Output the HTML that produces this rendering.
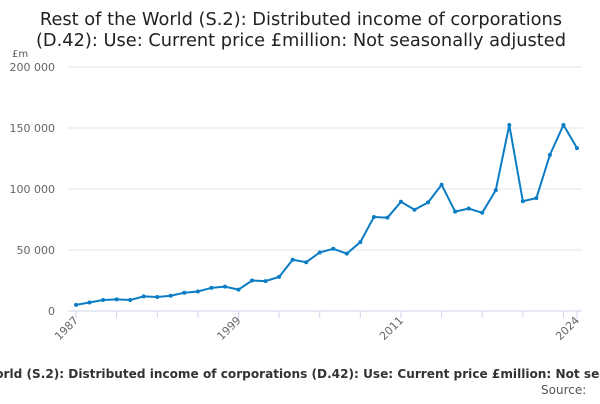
<!DOCTYPE html>
<html><head><meta charset="utf-8"><style>
body{margin:0;background:#fff;width:600px;height:400px;overflow:hidden;font-family:"DejaVu Sans","Liberation Sans",sans-serif}
</style></head><body>
<svg width="600" height="400" font-family="DejaVu Sans, Liberation Sans, sans-serif">
<text x="301" y="25" text-anchor="middle" font-size="17.8" fill="#222">Rest of the World (S.2): Distributed income of corporations</text>
<text x="301" y="46" text-anchor="middle" font-size="17.8" fill="#222">(D.42): Use: Current price £million: Not seasonally adjusted</text>
<text x="12" y="57" font-size="10" fill="#555">£m</text>
<g id="grid"></g><g id="xaxis"></g><g id="series"></g>
<text x="-97" y="378" font-size="12.1" font-weight="bold" fill="#333">Rest of the World (S.2): Distributed income of corporations (D.42): Use: Current price £million: Not seasonally adjusted</text>
<text x="541" y="394" font-size="12" fill="#555">Source:</text>
</svg>
<script>
const years=[1987,1988,1989,1990,1991,1992,1993,1994,1995,1996,1997,1998,1999,2000,2001,2002,2003,2004,2005,2006,2007,2008,2009,2010,2011,2012,2013,2014,2015,2016,2017,2018,2019,2020,2021,2022,2023,2024];
const values=[5000,7000,9000,9500,9000,12000,11500,12500,15000,16000,19000,20000,17500,25000,24500,28000,42000,40000,48000,51000,47000,56500,77000,76500,89500,83000,89000,103500,81500,84000,80500,99000,152500,90000,92500,128000,152500,133500];
const yTicks=[0,50000,100000,150000,200000];
const yTickLabels=["0","50 000","100 000","150 000","200 000"];
const xLabels=[1987,1999,2011,2024];
const NS="http://www.w3.org/2000/svg";
const x=v=>76+(v-1987)*(577-76)/(2024-1987);
const y=v=>311-v*244/200000;
function mk(t,a,p){const e=document.createElementNS(NS,t);for(const k in a)e.setAttribute(k,a[k]);p.appendChild(e);return e;}
const grid=document.getElementById('grid');
yTicks.forEach((t,i)=>{
 const l=mk('line',{x1:68,x2:582,y1:y(t),y2:y(t),stroke:t===0?'#ccd6eb':'#e6e6e6','stroke-width':1},grid);
 
 
 const tx=mk('text',{x:55,y:y(t)+4,'text-anchor':'end','font-size':11,fill:'#666'},grid);
 tx.textContent=yTickLabels[i];
 
 
});
const xa=document.getElementById('xaxis');
const tickYears=[];for(let yr=1987;yr<=2023;yr+=3)tickYears.push(yr);tickYears.push(2024);
tickYears.forEach(yr=>{
 const l=mk('line',{x1:x(yr),x2:x(yr),y1:311,y2:318,stroke:'#ccd6eb'},xa);
 
 
});
xLabels.forEach(yr=>{
 const t=mk('text',{x:x(yr)+3,y:321,'text-anchor':'end','font-size':11,fill:'#666',transform:`rotate(-45 ${x(yr)+3} 321)`},xa);
 t.textContent=yr;
 
 
});
const s=document.getElementById('series');
const p=mk('path',{d:years.map((yr,i)=>(i?'L':'M')+x(yr)+','+y(values[i])).join(''),fill:'none',stroke:'#0b7dc4','stroke-width':2},s);


years.forEach((yr,i)=>{
 const c=mk('circle',{cx:x(yr),cy:y(values[i]),r:2,fill:'#0b7dc4'},s);
 
 
});
</script>
</body></html>
